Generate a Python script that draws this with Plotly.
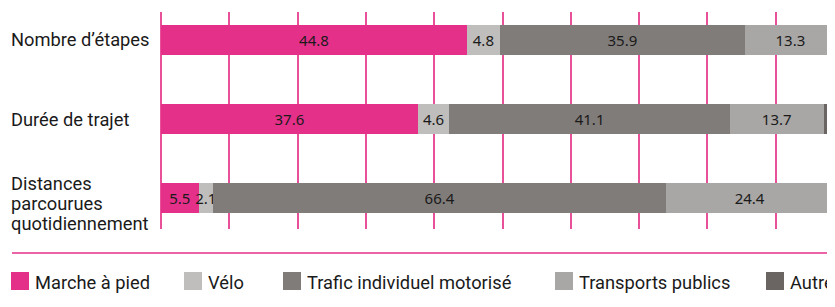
import plotly.graph_objects as go

categories = ["Nombre d’étapes", "Durée de trajet", "Distances\nparcourues\nquotidiennement"]
series_names = ["Marche à pied", "Vélo", "Trafic individuel motorisé", "Transports publics", "Autres"]
marche = [44.8, 37.6, 5.5]
velo = [4.8, 4.6, 2.1]
trafic = [35.9, 41.1, 66.4]
transports = [13.3, 13.7, 24.4]
autres = [1.2, 3.0, 1.6]
series_values = [marche, velo, trafic, transports, autres]
show_labels = [True, True, True, True, False]
colors = ["#e5308a", "#bfbebc", "#807c79", "#a8a7a5", "#6a6562"]

# page body has an 8px margin: lay out in screen pixels, shifted by OFF
OFF = 8
W, H = 835 - OFF, 307 - OFF
PLOT_L, PLOT_T, PLOT_B = 161, 12, 229          # screen px
ML, MR, MT = PLOT_L - OFF, 0, PLOT_T - OFF
MB = H - (PLOT_B - OFF)
PW, PH = W - ML - MR, H - MT - MB
PX_PER_UNIT = 6.83
LABEL_FONT = "Roboto, Lato, sans-serif"
NUM_FONT = "Noto Sans, Open Sans, sans-serif"
LABEL_SIZE = 18.3


def px_x(sx):
    return (sx - PLOT_L) / PW


def px_y(sy):
    return (PLOT_B - sy) / PH


fig = go.Figure()
for name, vals, col, lab in zip(series_names, series_values, colors, show_labels):
    fig.add_trace(go.Bar(
        y=categories, x=vals, name=name, orientation="h",
        marker=dict(color=col, line=dict(width=0)),
        width=0.38,
        text=[f"{v:.1f}" for v in vals] if lab else None,
        textposition="inside" if lab else "none",
        insidetextanchor="middle",
        textangle=0,
        textfont=dict(family=NUM_FONT, size=15, color="#1a1a1a"),
        showlegend=False,
    ))

annotations = []
# left-aligned category labels
line_h = 20
for cat in categories:
    lines = cat.split("\n")
    n = len(lines)
    for i, ln in enumerate(lines):
        shift = 0 if n == 1 else -(5 + (i - (n - 1) / 2) * line_h)
        annotations.append(dict(
            x=px_x(10), xref="paper", y=cat, yref="y",
            text=ln, showarrow=False, xanchor="left", yanchor="middle",
            yshift=shift, borderpad=0,
            font=dict(family=LABEL_FONT, size=LABEL_SIZE, color="#1a1a1a"),
        ))

# custom legend
legend_x = [11, 184, 283, 555, 766]
sq = 18
shapes = []
leg_top, leg_bot = 272, 290
for name, col, lx in zip(series_names, colors, legend_x):
    shapes.append(dict(
        type="rect", xref="paper", yref="paper",
        x0=px_x(lx), x1=px_x(lx + sq),
        y0=px_y(leg_top), y1=px_y(leg_bot),
        fillcolor=col, line=dict(width=0),
    ))
    annotations.append(dict(
        x=px_x(lx + sq + 5), xref="paper",
        y=px_y((leg_top + leg_bot) / 2 + 1), yref="paper",
        text=name, showarrow=False, xanchor="left", yanchor="middle",
        borderpad=0,
        font=dict(family=LABEL_FONT, size=LABEL_SIZE, color="#1a1a1a"),
    ))

# separator line
sep_y = 253
shapes.append(dict(
    type="line", xref="paper", yref="paper",
    x0=px_x(12), x1=1.05, y0=px_y(sep_y), y1=px_y(sep_y),
    line=dict(color="#e5308a", width=1.5),
))

fig.update_layout(
    width=W, height=H,
    margin=dict(l=ML, r=MR, t=MT, b=MB, pad=0, autoexpand=False),
    barmode="stack",
    plot_bgcolor="white", paper_bgcolor="white",
    xaxis=dict(range=[0, PW / PX_PER_UNIT], dtick=10, tick0=0, showgrid=True,
               gridcolor="#e8509a", gridwidth=1.5, zeroline=True,
               zerolinecolor="#e8509a", zerolinewidth=1.5,
               showticklabels=False, ticks="", showline=False, fixedrange=True),
    yaxis=dict(categoryorder="array", categoryarray=categories,
               range=[2.392, -0.354], showticklabels=False, ticks="",
               showgrid=False, zeroline=False, showline=False),
    uniformtext=dict(minsize=15, mode="show"),
    shapes=shapes, annotations=annotations,
    showlegend=False,
)

fig.write_html("out.html")
